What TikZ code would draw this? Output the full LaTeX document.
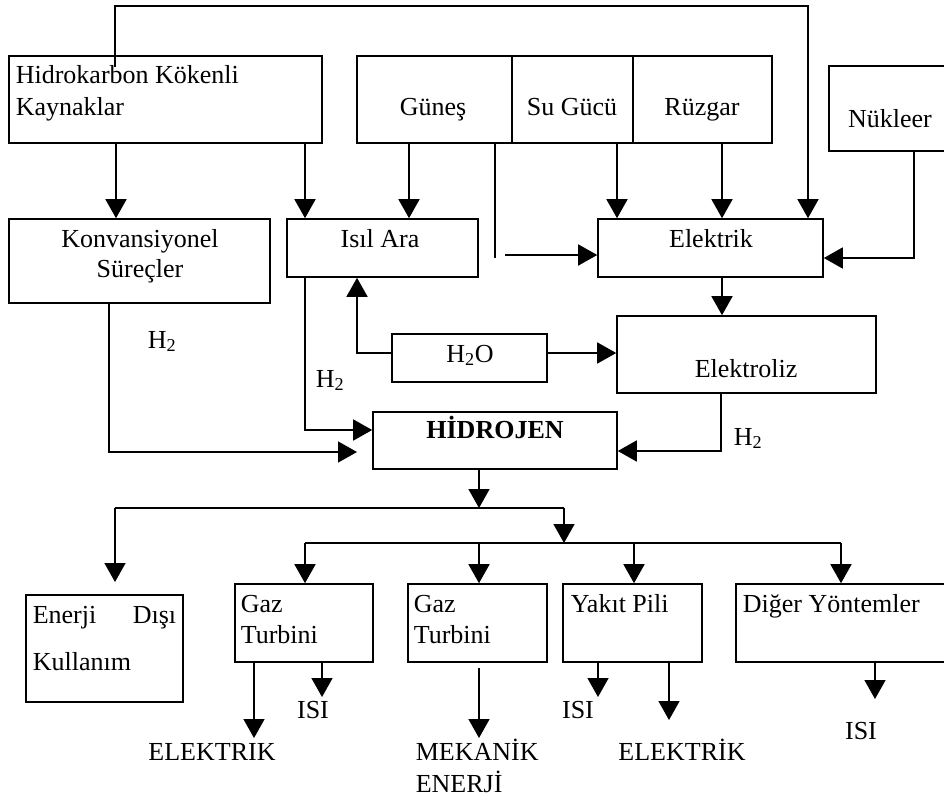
\documentclass[tikz,border=0pt]{standalone}
\usepackage{fontspec}
\setmainfont{Liberation Serif}
\usetikzlibrary{arrows.meta}
\begin{document}
\begin{tikzpicture}[x=1pt,y=-1pt,
  line width=1.6pt,
  box/.style={draw, rectangle, inner sep=0pt},
  txt/.style={inner sep=0pt, font=\fontsize{26}{31}\selectfont},
  arr/.style={-{Triangle[length=19pt,width=21pt]}}]
\useasboundingbox (0,0) rectangle (944,798);
\clip (0,0) rectangle (944,798);
% boxes
\node[box, minimum width=313pt, minimum height=87pt] (hk) at (165.5,99.5) {};
\node[box, minimum width=155pt, minimum height=87pt] (gun) at (434.5,99.5) {};
\node[box, minimum width=121pt, minimum height=87pt] (su) at (572.5,99.5) {};
\node[box, minimum width=139pt, minimum height=87pt] (ruz) at (702.5,99.5) {};
\node[box, minimum width=126pt, minimum height=85pt] (nuk) at (892,108.5) {};
\node[box, minimum width=261pt, minimum height=84pt] (kon) at (139.5,261) {};
\node[box, minimum width=191pt, minimum height=58pt] (isil) at (382.5,248) {};
\node[box, minimum width=225pt, minimum height=58pt] (elk) at (710.5,248) {};
\node[box, minimum width=155pt, minimum height=48pt] (h2o) at (469.5,358) {};
\node[box, minimum width=259pt, minimum height=77pt] (elz) at (746.5,354.5) {};
\node[box, minimum width=244pt, minimum height=57pt] (hid) at (495,440.5) {};
\node[box, minimum width=157pt, minimum height=107pt] (ene) at (104.5,648.5) {};
\node[box, minimum width=138pt, minimum height=78pt] (gt1) at (304,623) {};
\node[box, minimum width=139pt, minimum height=78pt] (gt2) at (477.5,623) {};
\node[box, minimum width=139pt, minimum height=78pt] (yak) at (632.5,623) {};
\node[box, minimum width=219pt, minimum height=78pt] (dig) at (845.5,623) {};
% box texts
\node[txt, anchor=base west] (t1) at (15,83) {Hidrokarbon Kökenli};
\node[txt, anchor=base west] (t2) at (15,115) {Kaynaklar};
\node[txt, anchor=base] (t3) at (433,115) {Güneş};
\node[txt, anchor=base] (t4) at (572,115) {Su Gücü};
\node[txt, anchor=base] (t5) at (702,115) {Rüzgar};
\node[txt, anchor=base] (t6) at (890,127) {Nükleer};
\node[txt, anchor=base] (t7) at (140,247) {Konvansiyonel};
\node[txt, anchor=base] (t8) at (140,277) {Süreçler};
\node[txt, anchor=base] (t9) at (380,247) {Isıl Ara};
\node[txt, anchor=base] (t10) at (711,247) {Elektrik};
\node[txt, anchor=base] (t11) at (470,362) {H\textsubscript{2}O};
\node[txt, anchor=base] (t12) at (746,377) {Elektroliz};
\node[txt, anchor=base, font=\fontsize{26}{31}\selectfont\bfseries] (t13) at (495,438) {HİDROJEN};
\node[txt, anchor=base west] (t14) at (32,623) {Enerji};
\node[txt, anchor=base east] (t15) at (177,623) {Dışı};
\node[txt, anchor=base west] (t16) at (32,670) {Kullanım};
\node[txt, anchor=base west] (t17) at (240,612) {Gaz};
\node[txt, anchor=base west] (t18) at (240,643) {Turbini};
\node[txt, anchor=base west] (t19) at (413,612) {Gaz};
\node[txt, anchor=base west] (t20) at (413,643) {Turbini};
\node[txt, anchor=base west] (t21) at (570,612) {Yakıt Pili};
\node[txt, anchor=base west] (t22) at (742,612) {Diğer Yöntemler};
% free labels
\node[txt, anchor=base west] (h2a) at (147,348) {H\textsubscript{2}};
\node[txt, anchor=base west] (h2b) at (315,387) {H\textsubscript{2}};
\node[txt, anchor=base west] (h2c) at (733,445) {H\textsubscript{2}};
\node[txt, anchor=base] (o1) at (212,760) {ELEKTRIK};
\node[txt, anchor=base] (o2) at (313,718) {ISI};
\node[txt, anchor=base west] (o3) at (415,760) {MEKANİK};
\node[txt, anchor=base west] (o4) at (415,792) {ENERJİ};
\node[txt, anchor=base] (o5) at (578,718) {ISI};
\node[txt, anchor=base] (o6) at (682,760) {ELEKTRİK};
\node[txt, anchor=base] (o7) at (861,739) {ISI};
% free-end coordinates
\coordinate (topstart) at (115,67);
\coordinate (gunend) at (495,258);
\coordinate (gunstart) at (505,255);
\coordinate (konend) at (357,452);
\coordinate (split1) at (479,508);
\coordinate (split2) at (564,543);
\coordinate (lefttip) at (115,582);
\coordinate (gt2start) at (479,668);
% connectors top
\draw[arr] (topstart) -- (115,6) -- (808,6) -- (elk.north -| 808,0);
\draw[arr] (hk.south -| 116,0) -- (kon.north -| 116,0);
\draw[arr] (hk.south -| 305,0) -- (isil.north -| 305,0);
\draw[arr] (gun.south -| 409,0) -- (isil.north -| 409,0);
\draw (gun.south -| 495,0) -- (gunend);
\draw[arr] (gunstart) -- (elk.west |- gunstart);
\draw[arr] (su.south -| 617,0) -- (elk.north -| 617,0);
\draw[arr] (ruz.south -| 722,0) -- (elk.north -| 722,0);
\draw[arr] (nuk.south -| 914,0) -- (914,258) -- (elk.east |- 0,258);
\draw[arr] (elk.south -| 722,0) -- (elz.north -| 722,0);
\draw[arr] (h2o.east |- 0,353) -- (elz.west |- 0,353);
\draw[arr] (h2o.west |- 0,353) -- (357,353) -- (isil.south -| 357,0);
\draw[arr] (isil.south -| 305,0) -- (305,430) -- (hid.west |- 0,430);
\draw[arr] (kon.south -| 109,0) -- (109,452) -- (konend);
\draw[arr] (elz.south -| 721,0) -- (721,451) -- (hid.east |- 0,451);
% distribution
\draw[arr] (hid.south -| 479,0) -- (split1);
\draw (115,508) -- (564,508);
\draw[arr] (115,508) -- (lefttip);
\draw[arr] (564,508) -- (split2);
\draw (305,543) -- (841,543);
\draw[arr] (305,543) -- (gt1.north -| 305,0);
\draw[arr] (479,543) -- (gt2.north -| 479,0);
\draw[arr] (634,543) -- (yak.north -| 634,0);
\draw[arr] (841,543) -- (dig.north -| 841,0);
% outputs
\draw[arr] (gt1.south -| 254,0) -- (254,738);
\draw[arr] (gt1.south -| 322,0) -- (322,697);
\draw[arr] (gt2start) -- (479,738);
\draw[arr] (yak.south -| 598,0) -- (598,697);
\draw[arr] (yak.south -| 669,0) -- (669,720);
\draw[arr] (dig.south -| 875,0) -- (875,699);
\end{tikzpicture}
\end{document}
